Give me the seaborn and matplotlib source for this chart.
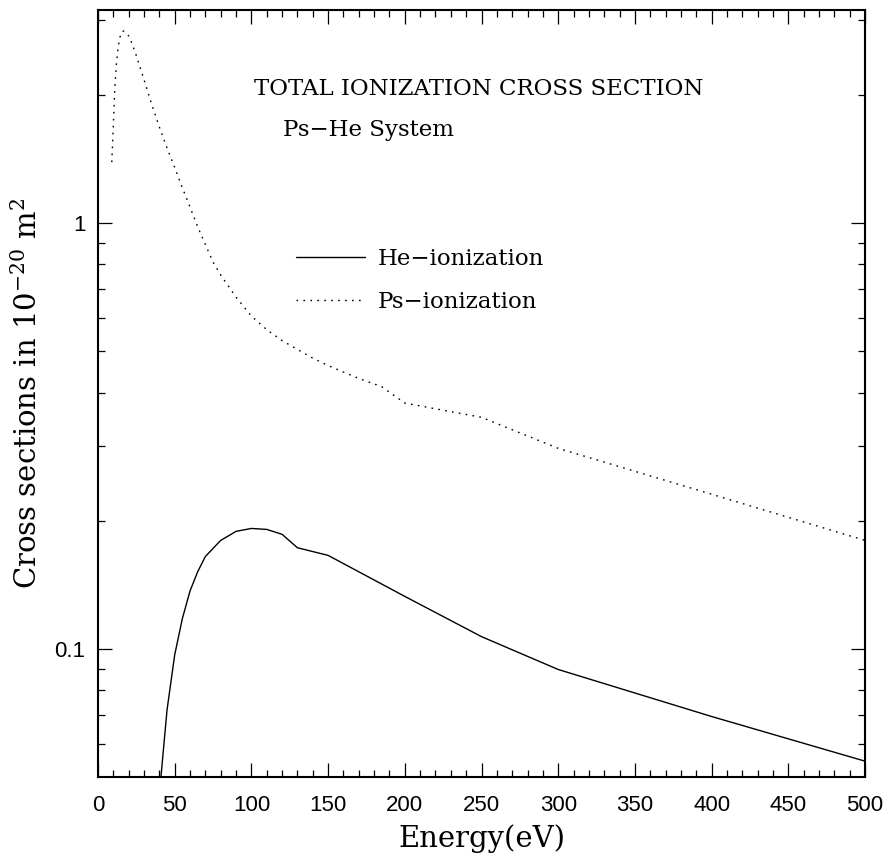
import matplotlib
matplotlib.use('Agg')
import matplotlib.pyplot as plt
import matplotlib.ticker as mticker
import seaborn as sns
import pandas as pd

# --- dados ---
he_energia = [41, 45, 50, 55, 60, 65, 70, 80, 90, 100, 110, 120, 130, 150,
              200, 250, 300, 400, 500]
he_sigma = [0.050, 0.072, 0.097, 0.118, 0.137, 0.152, 0.165, 0.180, 0.189,
            0.192, 0.191, 0.186, 0.173, 0.166, 0.133, 0.107, 0.0896, 0.0695,
            0.0546]

ps_energia = [9, 10, 11, 12, 13, 14, 15, 16, 17, 18, 20, 22, 25, 30, 35, 40,
              45, 50, 55, 60, 65, 70, 75, 80, 90, 100, 110, 120, 130, 140,
              150, 160, 170, 185, 200, 250, 300, 400, 500]
ps_sigma = [1.39, 1.70, 2.08, 2.36, 2.56, 2.70, 2.79, 2.82, 2.82, 2.80, 2.75,
            2.65, 2.47, 2.17, 1.90, 1.68, 1.50, 1.35, 1.21, 1.09, 0.98, 0.89,
            0.81, 0.755, 0.67, 0.605, 0.562, 0.530, 0.505, 0.482, 0.463,
            0.447, 0.432, 0.413, 0.378, 0.350, 0.296, 0.231, 0.180]

series_nomes = ["He\u2212ionization", "Ps\u2212ionization"]

df = pd.concat([
    pd.DataFrame({"energia": he_energia, "sigma": he_sigma, "serie": series_nomes[0]}),
    pd.DataFrame({"energia": ps_energia, "sigma": ps_sigma, "serie": series_nomes[1]}),
])

sns.set_style("ticks")
plt.rcParams['font.family'] = ['DejaVu Serif']
plt.rcParams['mathtext.fontset'] = 'dejavuserif'
plt.rcParams['text.color'] = 'black'
plt.rcParams['axes.labelcolor'] = 'black'
plt.rcParams['xtick.color'] = 'black'
plt.rcParams['ytick.color'] = 'black'

fig = plt.figure(figsize=(8.88, 8.61), dpi=100)
ax = fig.add_axes([98 / 888, 1 - 777 / 861, (865 - 98) / 888, (777 - 10) / 861])

sns.lineplot(
    data=df, x="energia", y="sigma", hue="serie", style="serie",
    palette={series_nomes[0]: "black", series_nomes[1]: "black"},
    dashes={series_nomes[0]: "", series_nomes[1]: (1.2, 3.8)},
    linewidth=1.0, sort=False, ax=ax,
)

ax.set_yscale("log")
ax.set_xlim(0, 500)
ax.set_ylim(10 ** -1.3, 10 ** 0.5)

# eixos com ticks para dentro nos quatro lados
for s in ax.spines.values():
    s.set_linewidth(1.5)
    s.set_color("black")
ax.xaxis.set_major_locator(mticker.MultipleLocator(50))
ax.xaxis.set_minor_locator(mticker.MultipleLocator(10))
ax.yaxis.set_major_locator(mticker.FixedLocator([0.1, 1]))
ax.yaxis.set_major_formatter(mticker.FixedFormatter(["0.1", "1"]))
ax.yaxis.set_minor_locator(mticker.LogLocator(base=10, subs=range(2, 10), numticks=20))
ax.yaxis.set_minor_formatter(mticker.NullFormatter())
ax.tick_params(which="both", direction="in", top=True, right=True,
               color="black", width=0.9)
ax.tick_params(which="major", length=10)
ax.tick_params(which="minor", length=5)
ax.tick_params(axis="x", which="major", pad=13)
ax.tick_params(axis="y", which="major", pad=9)
for lab in ax.get_xticklabels() + ax.get_yticklabels():
    lab.set_family("Liberation Sans")
    lab.set_fontsize(16)

ax.set_xlabel("Energy(eV)", fontsize=21, labelpad=6)
ax.set_ylabel("Cross sections in 10$^{-20}$ m$^{2}$", fontsize=21, labelpad=8)

fig.text(479 / 888, 1 - 89 / 861, "TOTAL IONIZATION CROSS SECTION",
         ha="center", va="center", fontsize=16.5)
fig.text(283 / 888, 1 - 130 / 861, "Ps\u2212He System",
         ha="left", va="center", fontsize=16.5)

ax.legend(
    loc="upper left", bbox_to_anchor=(296 / 888, 1 - 248 / 861),
    bbox_transform=fig.transFigure, frameon=False, fontsize=16.5,
    handlelength=3.0, handletextpad=0.55, labelspacing=0.9,
    borderpad=0, borderaxespad=0, title=None,
)

fig.savefig("out.png", dpi=100)
plt.close("all")
